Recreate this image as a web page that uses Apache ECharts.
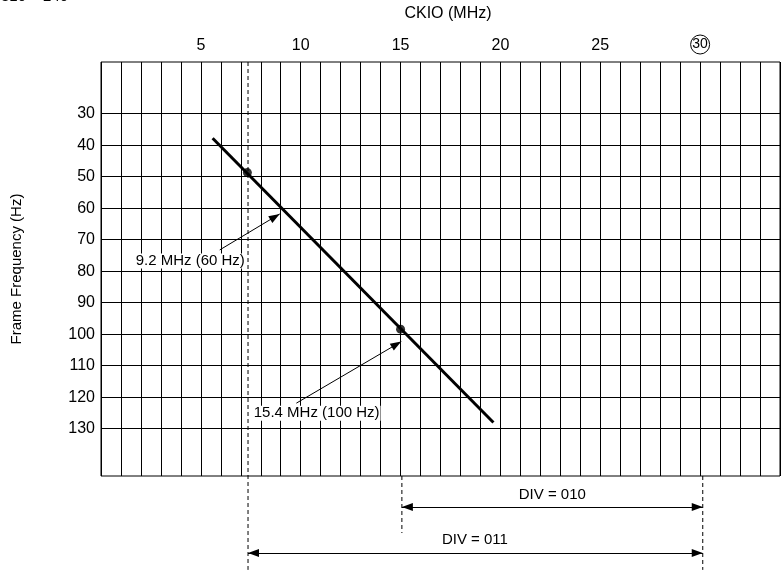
<!DOCTYPE html>
<html><head><meta charset="utf-8">
<script src="https://cdn.jsdelivr.net/npm/echarts@6/dist/echarts.min.js"></script>
<style>html,body{margin:0;padding:0;background:#fff}#c{width:783px;height:570px}</style>
</head><body><div id="c"></div>
<script>
// ---- data (CKIO in MHz, frame frequency in Hz) ----
const xTickLabels = [5, 10, 15, 20, 25, 30];
const circledTick = 30;
const yTickLabels = [30, 40, 50, 60, 70, 80, 90, 100, 110, 120, 130];
const lineCKIO = [5.59, 19.65];
const lineHz = [37.8, 128.0];
const pointCKIO = [7.33, 15.0];
const pointHz = [48.7, 98.4];
const annoText = ['9.2 MHz (60 Hz)', '15.4 MHz (100 Hz)'];
const annoTextCKIO = [4.45, 10.75];
const annoTextHz = [76.8, 125.05];
const annoFromCKIO = [5.92, 9.74];
const annoFromHz = [73.24, 121.88];
const annoToCKIO = [8.91, 14.97];
const annoToHz = [61.82, 102.34];
const divText = ['DIV = 010', 'DIV = 011'];
const divFromCKIO = [15.0, 7.33];
const divToCKIO = [30.0, 30.0];
const divHz = [154.8, 169.4];
const divTextCKIO = [22.5, 18.64];
const divTextHz = [151.0, 165.3];
const guideCKIO = [7.33, 15.0, 30.0];
const guideFromHz = [13.6, 145, 145];
const guideToHz = [174.8, 163.1, 174.8];
const sizeLabel = '310 × 240';

// ---- axis extents / layout ----
const xMin = 0, xMax = 34, yMin = 13.6, yMax = 145;
const H = 570, gTop = 62, gBottom = 94, gLeft = 101, gRight = -1;
const hzPerPx = (yMax - yMin) / (H - gTop - gBottom);
const y2Min = yMin - gTop * hzPerPx;
const y2Max = yMax + gBottom * hzPerPx;
const FONT = '"Liberation Sans", Arial, Helvetica, sans-serif';

const chart = echarts.init(document.getElementById('c'), null, {renderer: 'canvas'});

const arrowEnd = {symbol: 'triangle', symbolSize: [8, 11], symbolOffset: [0, '50%']};

const series = [
  // horizontal grid lines
  {type: 'line', xAxisIndex: 0, yAxisIndex: 0, data: [], silent: true,
   markLine: {silent: true, symbol: ['none', 'none'], label: {show: false}, animation: false,
     lineStyle: {color: '#000', width: 1, type: 'solid'},
     data: yTickLabels.map(v => ({yAxis: v}))}},
  // main line
  {type: 'line', xAxisIndex: 0, yAxisIndex: 0, symbol: 'none', silent: true,
   lineStyle: {color: '#000', width: 3},
   data: lineCKIO.map((x, i) => [x, lineHz[i]])},
  // points
  {type: 'scatter', xAxisIndex: 0, yAxisIndex: 0, symbolSize: 9, silent: true,
   itemStyle: {color: '#000'},
   data: pointCKIO.map((x, i) => [x, pointHz[i]])},
];
// dashed guides
guideCKIO.forEach((x, i) => {
  series.push({type: 'line', xAxisIndex: 1, yAxisIndex: 1, symbol: 'none', silent: true,
    lineStyle: {color: '#000', width: 1, type: [4, 3]},
    data: [[x, guideFromHz[i]], [x, guideToHz[i]]]});
});
// arrows
const arrowData = [];
annoText.forEach((t, i) => {
  arrowData.push([{coord: [annoFromCKIO[i], annoFromHz[i]], symbol: 'none'},
                  Object.assign({coord: [annoToCKIO[i], annoToHz[i]]}, arrowEnd)]);
});
divText.forEach((t, i) => {
  arrowData.push([Object.assign({coord: [divFromCKIO[i], divHz[i]]}, arrowEnd),
                  Object.assign({coord: [divToCKIO[i], divHz[i]]}, arrowEnd)]);
});
series.push({type: 'line', xAxisIndex: 1, yAxisIndex: 1, data: [], silent: true,
  markLine: {silent: true, animation: false, label: {show: false},
    lineStyle: {color: '#000', width: 1, type: 'solid'},
    itemStyle: {color: '#000'},
    data: arrowData}});
// texts
series.push({type: 'scatter', xAxisIndex: 1, yAxisIndex: 1, symbolSize: 1, silent: true,
  itemStyle: {color: '#fff'},
  label: {show: true, position: 'inside', formatter: '{b}', color: '#000', fontSize: 15, opacity: 1,
    fontFamily: FONT, backgroundColor: '#fff', padding: [0, 1], textBorderWidth: 0},
  z: 5,
  data: annoText.map((t, i) => ({name: t, value: [annoTextCKIO[i], annoTextHz[i]]}))
    .concat(divText.map((t, i) => ({name: t, value: [divTextCKIO[i], divTextHz[i]]})))});

chart.setOption({
  animation: false,
  backgroundColor: '#fff',
  textStyle: {fontFamily: FONT},
  graphic: [{type: 'text', left: 1, top: -11,
    style: {text: sizeLabel, fontSize: 15, fontFamily: FONT, fill: '#000'}}],
  grid: [
    {left: gLeft, right: gRight, top: gTop, bottom: gBottom, show: true, borderColor: '#000', borderWidth: 1},
    {left: gLeft, right: gRight, top: 0, bottom: 0, show: false}
  ],
  xAxis: [
    {type: 'value', gridIndex: 0, position: 'top', min: xMin, max: xMax, interval: 1,
     name: 'CKIO (MHz)', nameLocation: 'middle', nameGap: 40,
     nameTextStyle: {fontSize: 16, color: '#000', fontFamily: FONT, padding: [0, 0, 0, 15]},
     axisLine: {show: false}, axisTick: {show: false},
     splitLine: {show: true, lineStyle: {color: '#000', width: 1}},
     axisLabel: {color: '#000', fontSize: 16, fontFamily: FONT, margin: 8,
       formatter: v => xTickLabels.indexOf(v) >= 0 ? (v === circledTick ? '{c|' + v + '}' : String(v)) : '',
       rich: {c: {fontSize: 14, fontFamily: FONT, color: '#000', width: 19, height: 19, lineHeight: 19,
         align: 'center', borderColor: '#000', borderWidth: 1, borderRadius: 10}}}},
    {type: 'value', gridIndex: 1, min: xMin, max: xMax, show: false}
  ],
  yAxis: [
    {type: 'value', gridIndex: 0, inverse: true, min: yMin, max: yMax,
     name: 'Frame Frequency (Hz)', nameLocation: 'middle', nameGap: 77,
     nameTextStyle: {fontSize: 15, color: '#000', fontFamily: FONT},
     axisLine: {show: false}, axisTick: {show: false}, splitLine: {show: false},
     axisLabel: {color: '#000', fontSize: 16, fontFamily: FONT, margin: 6, customValues: yTickLabels}},
    {type: 'value', gridIndex: 1, inverse: true, min: y2Min, max: y2Max, show: false}
  ],
  series: series
});
</script></body></html>
